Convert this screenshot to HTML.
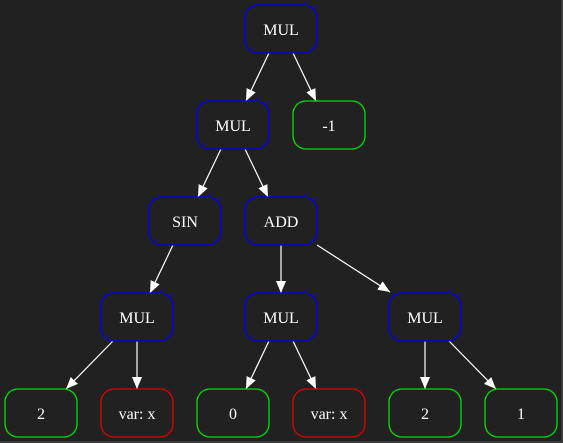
<!DOCTYPE html>
<html><head><meta charset="utf-8"><style>
html,body{margin:0;padding:0;background:#212121;}
svg{display:block;}
text{font-family:"Liberation Serif",serif;font-size:16px;fill:#ffffff;}
</style></head><body>
<svg width="563" height="443" viewBox="0 0 563 443" xmlns="http://www.w3.org/2000/svg">
<defs><marker id="a" markerWidth="12" markerHeight="10" refX="12" refY="5" orient="auto" markerUnits="userSpaceOnUse"><path d="M0,0 L12,5 L0,10 z" fill="#ffffff"/></marker></defs>
<rect x="0" y="0" width="563" height="443" fill="#212121"/>
<rect x="561" y="0" width="2" height="443" fill="#3a3a3a"/>
<rect x="0" y="441" width="563" height="2" fill="#3a3a3a"/>
<g stroke="#ffffff" stroke-width="1.2" marker-end="url(#a)">
<line x1="269" y1="53" x2="246" y2="101"/>
<line x1="293" y1="53" x2="316" y2="101"/>
<line x1="221" y1="149" x2="198" y2="197"/>
<line x1="245" y1="149" x2="268" y2="197"/>
<line x1="173" y1="245" x2="150" y2="293"/>
<line x1="281" y1="245" x2="281" y2="293"/>
<line x1="317" y1="245" x2="390" y2="292"/>
<line x1="113" y1="341" x2="66" y2="389"/>
<line x1="137" y1="341" x2="137" y2="389"/>
<line x1="269" y1="341" x2="246" y2="389"/>
<line x1="293" y1="341" x2="316" y2="389"/>
<line x1="425" y1="341" x2="425" y2="389"/>
<line x1="449" y1="341" x2="496" y2="389"/>
</g>
<g fill="none" stroke-width="1.3">
<rect x="245" y="5" width="72" height="48" rx="13" stroke="#0000ff"/>
<rect x="197" y="101" width="72" height="48" rx="13" stroke="#0000ff"/>
<rect x="293" y="101" width="72" height="48" rx="13" stroke="#00e000"/>
<rect x="149" y="197" width="72" height="48" rx="13" stroke="#0000ff"/>
<rect x="245" y="197" width="72" height="48" rx="13" stroke="#0000ff"/>
<rect x="101" y="293" width="72" height="48" rx="13" stroke="#0000ff"/>
<rect x="245" y="293" width="72" height="48" rx="13" stroke="#0000ff"/>
<rect x="389" y="293" width="72" height="48" rx="13" stroke="#0000ff"/>
<rect x="5" y="389" width="72" height="48" rx="13" stroke="#00e000"/>
<rect x="101" y="389" width="72" height="48" rx="13" stroke="#e00000"/>
<rect x="197" y="389" width="72" height="48" rx="13" stroke="#00e000"/>
<rect x="293" y="389" width="72" height="48" rx="13" stroke="#e00000"/>
<rect x="389" y="389" width="72" height="48" rx="13" stroke="#00e000"/>
<rect x="485" y="389" width="72" height="48" rx="13" stroke="#00e000"/>
</g>
<g text-anchor="middle">
<text x="281" y="35">MUL</text>
<text x="233" y="131">MUL</text>
<text x="329" y="131">-1</text>
<text x="185" y="227">SIN</text>
<text x="281" y="227">ADD</text>
<text x="137" y="323">MUL</text>
<text x="281" y="323">MUL</text>
<text x="425" y="323">MUL</text>
<text x="41" y="419">2</text>
<text x="137" y="419">var: x</text>
<text x="233" y="419">0</text>
<text x="329" y="419">var: x</text>
<text x="425" y="419">2</text>
<text x="521" y="419">1</text>
</g>
</svg>
</body></html>
